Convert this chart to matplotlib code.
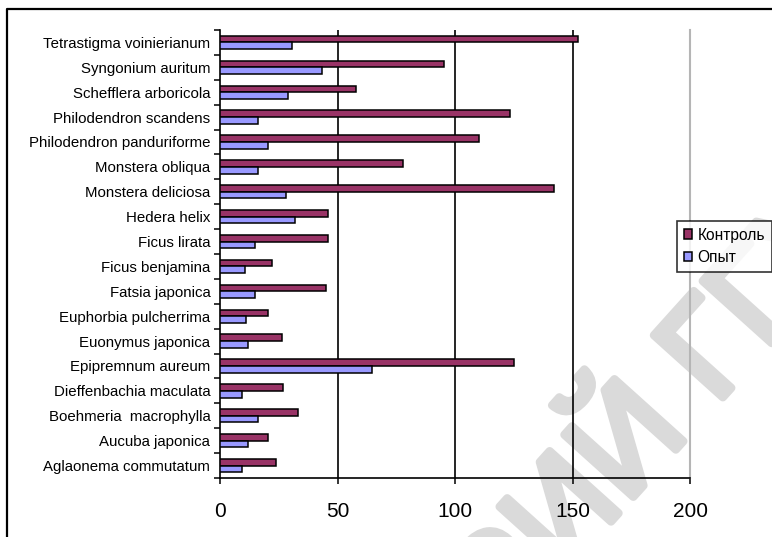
import matplotlib
matplotlib.use("Agg")
import matplotlib.pyplot as plt
import matplotlib.patheffects as pe
from matplotlib.lines import Line2D
from matplotlib.ticker import FixedLocator
import numpy as np

# species listed bottom-to-top as they appear on the category axis
species = [
    "Aglaonema commutatum", "Aucuba japonica", "Boehmeria  macrophylla",
    "Dieffenbachia maculata", "Epipremnum aureum", "Euonymus japonica",
    "Euphorbia pulcherrima", "Fatsia japonica", "Ficus benjamina",
    "Ficus lirata", "Hedera helix", "Monstera deliciosa", "Monstera obliqua",
    "Philodendron panduriforme", "Philodendron scandens",
    "Schefflera arboricola", "Syngonium auritum", "Tetrastigma voinierianum",
]
control = [24, 20.5, 33, 27, 125, 26.5, 20.5, 45, 22, 46, 46, 142, 78,
           110, 123.5, 58, 95.5, 152.5]
experiment = [9.5, 12, 16, 9.5, 64.5, 12, 11, 15, 10.5, 15, 32, 28, 16,
              20.5, 16, 29, 43.5, 30.5]
xticks = [0, 50, 100, 150, 200]

W, H = 772, 537
plt.rcParams["font.family"] = ["Liberation Sans", "DejaVu Sans"]

fig = plt.figure(figsize=(W / 100, H / 100), dpi=100)
fig.patch.set_facecolor("white")

# faint diagonal watermark behind everything
ang = 48.0
d = np.array([np.cos(np.radians(ang)), np.sin(np.radians(ang))])
g0 = np.array([715.5, H - 405.5])
gap = 37.0
wm_col = "#dadada"
wm = dict(fontsize=97, color=wm_col, rotation=ang, rotation_mode="anchor",
          va="baseline", zorder=-5,
          path_effects=[pe.withStroke(linewidth=6, foreground=wm_col)])
fig.text(g0[0] / W, g0[1] / H, "ГГУ ИМЕНИ Ф. СКОРИНЫ", ha="left", **wm)
p1 = g0 - gap * d
fig.text(p1[0] / W, p1[1] / H, "РЕПОЗИТОРИЙ", ha="right", **wm)

# outer chart frame (only top and left edges fall inside the image)
fx, fy = 7 / W, 1 - 9 / H
fig.add_artist(Line2D([fx, fx, 1.0], [0.0, fy, fy], transform=fig.transFigure,
                      color="black", lw=1.6))

ax = fig.add_axes([220 / W, 1 - 478 / H, 470 / W, 448 / H])
ax.set_facecolor("none")

y = np.arange(len(species))
h = 0.27
ax.barh(y + h / 2, control, height=h, color="#993366", edgecolor="black",
        linewidth=1.1, label="Контроль", zorder=3)
ax.barh(y - h / 2, experiment, height=h, color="#9999FF", edgecolor="black",
        linewidth=1.1, label="Опыт", zorder=3)

ax.set_xlim(0, 200)
ax.set_ylim(-0.5, len(species) - 0.5)
ax.set_xticks(xticks)
ax.set_xticklabels([str(v) for v in xticks], fontsize=15)
ax.tick_params(axis="x", direction="out", length=4, width=1.1, pad=13)

ax.set_yticks(y)
ax.set_yticklabels(species, fontsize=10.8)
ax.tick_params(axis="y", which="major", length=0, pad=7)
ax.yaxis.set_minor_locator(FixedLocator(np.arange(-0.5, len(species), 1.0)))
ax.tick_params(axis="y", which="minor", direction="out", length=4, width=1.1)

for v in xticks[1:-1]:
    ax.axvline(v, color="black", lw=1.2, zorder=1)

ax.spines["top"].set_visible(False)
ax.spines["right"].set_color("#b5b5b5")
ax.spines["right"].set_linewidth(1.5)
ax.spines["left"].set_linewidth(1.2)
ax.spines["bottom"].set_linewidth(1.2)

leg = fig.legend(loc="upper left", bbox_to_anchor=(677 / W, 1 - 221 / H),
                 fontsize=11.2, frameon=True, fancybox=False,
                 handlelength=0.55, handleheight=0.55, handletextpad=0.35,
                 borderpad=0.42, labelspacing=0.5, borderaxespad=0)
leg.get_frame().set_edgecolor("black")
leg.get_frame().set_linewidth(1.2)
leg.set_zorder(10)

fig.savefig("out.png", dpi=100)
